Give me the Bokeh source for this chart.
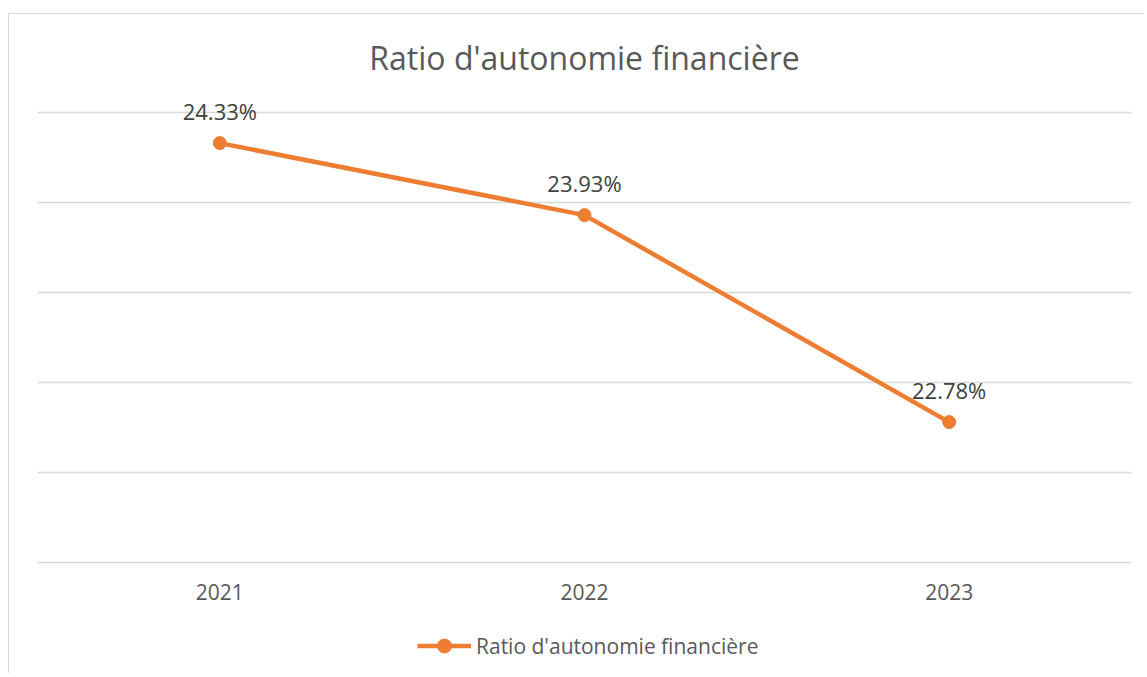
from bokeh.plotting import figure
from bokeh.models import ColumnDataSource, LabelSet, Label, Legend, LegendItem, FixedTicker, Range1d
from bokeh.core.properties import value
from bokeh.embed import file_html
from bokeh.resources import INLINE

# ---- data ----
years = ["2021", "2022", "2023"]
ratios = [24.33, 23.93, 22.78]
ratio_labels = [f"{v:.2f}%" for v in ratios]
series_name = "Ratio d'autonomie financière"
chart_title = "Ratio d'autonomie financière"
y_ticks = [22.0, 22.5, 23.0, 23.5, 24.0, 24.5]

ORANGE = "#ED7D31"
GRID = "#D9D9D9"
FONT = "Open Sans"

src = ColumnDataSource(dict(x=years, y=ratios, lbl=ratio_labels))
cat_src = ColumnDataSource(dict(x=years, y=[y_ticks[0]] * len(years), lbl=years))

PX_PER_UNIT = 180.0
p = figure(
    x_range=years,
    y_range=Range1d(y_ticks[0] - 108 / PX_PER_UNIT, y_ticks[0] + 542 / PX_PER_UNIT),
    width=1136, height=660,
    output_backend="svg", toolbar_location=None,
    min_border_left=28, min_border_right=14,
    min_border_top=6, min_border_bottom=4,
    styles={"border-left": "1px solid #D9D9D9", "border-top": "1px solid #D9D9D9"},
    margin=(13, 0, 0, 8),
)
p.outline_line_color = None
p.background_fill_color = "white"
p.border_fill_color = "white"

p.yaxis.visible = False
p.xaxis.visible = False
p.yaxis.ticker = FixedTicker(ticks=y_ticks)
p.ygrid.ticker = FixedTicker(ticks=y_ticks)
p.ygrid.grid_line_color = GRID
p.ygrid.grid_line_width = 1.4
p.xgrid.grid_line_color = None

line = p.line("x", "y", source=src, line_color=ORANGE, line_width=4.5)
pts = p.scatter("x", "y", source=src, size=13, fill_color=ORANGE, line_color=ORANGE)

# category labels under the baseline gridline (axis labels)
cat_labels = LabelSet(x="x", y="y", text="lbl", source=cat_src, y_offset=-29,
                      text_align="center", text_baseline="middle",
                      text_font=value(FONT), text_font_size=value("21px"), text_color="#595959")
p.add_layout(cat_labels)

labels = LabelSet(x="x", y="y", text="lbl", source=src, y_offset=32,
                  text_align="center", text_baseline="middle",
                  text_font=value(FONT), text_font_size=value("22px"), text_color="#404040")
p.add_layout(labels)

title = Label(x=1.5, y=y_ticks[0] + 505 / PX_PER_UNIT, text=chart_title,
              text_align="center", text_baseline="middle",
              text_font=FONT, text_font_size="32px", text_color="#595959")
p.add_layout(title)

legend = Legend(items=[LegendItem(label=series_name, renderers=[line, pts])],
                location=(380, 7), orientation="horizontal",
                border_line_color=None, background_fill_alpha=0,
                padding=0, margin=0, glyph_width=54, glyph_height=35, label_standoff=5,
                label_text_font=FONT, label_text_font_size="21px", label_text_color="#595959")
p.add_layout(legend, "center")

open("out.html", "w").write(file_html(p, INLINE))
